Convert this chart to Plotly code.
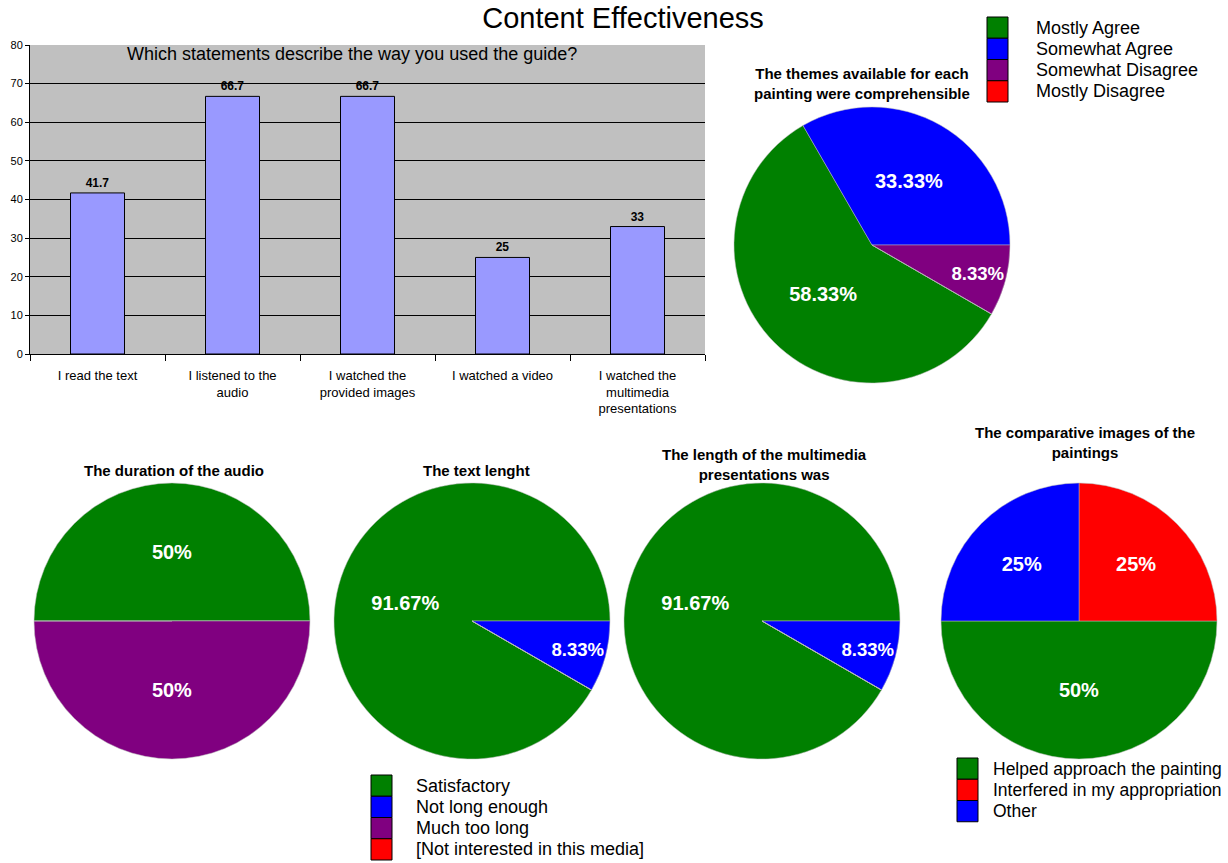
import plotly.graph_objects as go

W, H = 1228, 863

# bar chart data
usage_labels = ["I read the text", "I listened to the<br>audio", "I watched the<br>provided images",
                "I watched a video", "I watched the<br>multimedia<br>presentations"]
usage_values = [41.7, 66.7, 66.7, 25, 33]

# pie data (counts out of 12 respondents)
agree_labels = ["Mostly Agree", "Somewhat Agree", "Somewhat Disagree", "Mostly Disagree"]
agree_colors = ["#008000", "#0000FF", "#800080", "#FF0000"]
themes_counts = [7, 4, 1, 0]

length_labels = ["Satisfactory", "Not long enough", "Much too long", "[Not interested in this media]"]
length_colors = ["#008000", "#0000FF", "#800080", "#FF0000"]
audio_counts = [6, 0, 6, 0]
text_counts = [11, 1, 0, 0]
multimedia_counts = [11, 1, 0, 0]

compare_labels = ["Helped approach the painting", "Interfered in my appropriation", "Other"]
compare_colors = ["#008000", "#FF0000", "#0000FF"]
compare_counts = [6, 3, 3]

FONT = "Liberation Sans, Arial, sans-serif"
NARROW = "Liberation Sans Narrow, Arial Narrow, Liberation Sans, sans-serif"


def fx(px):
    return px / W


def fy(py):
    return 1 - py / H


def pct_text(counts):
    total = sum(counts)
    out = []
    for c in counts:
        if c == 0:
            out.append("")
        else:
            s = f"{100 * c / total:.2f}".rstrip("0").rstrip(".")
            out.append(s + "%")
    return out


fig = go.Figure()

fig.add_trace(go.Bar(
    x=usage_labels, y=usage_values,
    marker=dict(color="#9999FF", line=dict(color="black", width=1)),
    width=0.4,
    text=[f"{v:g}" for v in usage_values], textposition="outside",
    textfont=dict(family=FONT, size=12, color="black", weight="bold"),
    cliponaxis=False, showlegend=False,
))


def add_pie(labels, counts, colors, cx, cy, rotation, direction):
    r = 138
    fig.add_trace(go.Pie(
        labels=labels, values=counts, sort=False,
        marker=dict(colors=colors, line=dict(color="#BBBBBB", width=0.5)),
        text=pct_text(counts), textinfo="text", textposition="inside",
        insidetextorientation="horizontal",
        textfont=dict(family=FONT, size=20, color="white", weight="bold"),
        rotation=rotation, direction=direction,
        domain=dict(x=[fx(cx - r), fx(cx + r)], y=[fy(cy + r), fy(cy - r)]),
        showlegend=False, hoverinfo="label+percent",
    ))


add_pie(agree_labels, themes_counts, agree_colors, 872, 245, 120, "clockwise")
add_pie(length_labels, audio_counts, length_colors, 172, 621, -90, "clockwise")
add_pie(length_labels, text_counts, length_colors, 472, 621, 120, "clockwise")
add_pie(length_labels, multimedia_counts, length_colors, 762, 621, 120, "clockwise")
add_pie(compare_labels, compare_counts, compare_colors, 1079, 621, 90, "counterclockwise")

bold = dict(family=FONT, size=15, color="black", weight="bold")
annotations = [
    dict(text="Which statements describe the way you used the guide?", x=fx(352), y=fy(54),
         font=dict(family=NARROW, size=18, color="black")),
    dict(text="The themes available for each<br>painting were comprehensible", x=fx(862), y=fy(83), font=bold),
    dict(text="The duration of the audio", x=fx(174), y=fy(471), font=bold),
    dict(text="The text lenght", x=fx(476), y=fy(470), font=bold),
    dict(text="The length of the multimedia<br>presentations was", x=fx(764), y=fy(464), font=bold),
    dict(text="The comparative images of the<br>paintings", x=fx(1085), y=fy(442), font=bold),
]
for a in annotations:
    a.update(xref="paper", yref="paper", showarrow=False, xanchor="center", yanchor="middle")

# legends: colour boxes stacked with labels beside them
shapes = []
for labels, colors, box_x, top, text_x, fsize in [
    (agree_labels, agree_colors, 987, 17, 1034, 18),
    (length_labels, length_colors, 371, 775, 414, 18),
    (compare_labels, compare_colors, 957, 758, 991, 17.5),
]:
    step = 21.25
    for i, (lab, col) in enumerate(zip(labels, colors)):
        y0 = top + i * step
        shapes.append(dict(type="rect", xref="paper", yref="paper",
                           x0=fx(box_x), x1=fx(box_x + 21), y0=fy(y0 + step), y1=fy(y0),
                           fillcolor=col, line=dict(color="black", width=1)))
        annotations.append(dict(text=lab, x=fx(text_x), y=fy(y0 + step / 2), xref="paper", yref="paper",
                                xanchor="left", yanchor="middle", showarrow=False,
                                font=dict(family=FONT, size=fsize, color="black")))

fig.update_layout(
    width=W, height=H,
    margin=dict(l=0, r=0, t=0, b=0, autoexpand=False),
    paper_bgcolor="white", plot_bgcolor="#C0C0C0",
    showlegend=False,
    title=dict(text="Content Effectiveness", x=fx(623), xanchor="center", y=fy(18), yanchor="middle",
               font=dict(family=FONT, size=29, color="black")),
    xaxis=dict(domain=[fx(30), fx(705)], showline=True, linecolor="black", linewidth=1,
               ticks="outside", ticklen=6, tickcolor="black", tickson="boundaries",
               ticklabelstandoff=9,
               tickfont=dict(family=NARROW, size=13, color="black"), showgrid=False,
               fixedrange=True),
    yaxis=dict(domain=[fy(354), fy(45)], range=[0, 80], dtick=10, showline=True, linecolor="black",
               ticks="outside", ticklen=4, tickcolor="black", gridcolor="black", gridwidth=1,
               tickfont=dict(family=NARROW, size=11, color="black"), zeroline=False, fixedrange=True),
    annotations=annotations,
    shapes=shapes,
)

# drop the page's default body margin so the figure sits at the window's corner
fig.write_html("out.html", config={"displayModeBar": False},
               post_script="document.body.style.margin = '0';")
